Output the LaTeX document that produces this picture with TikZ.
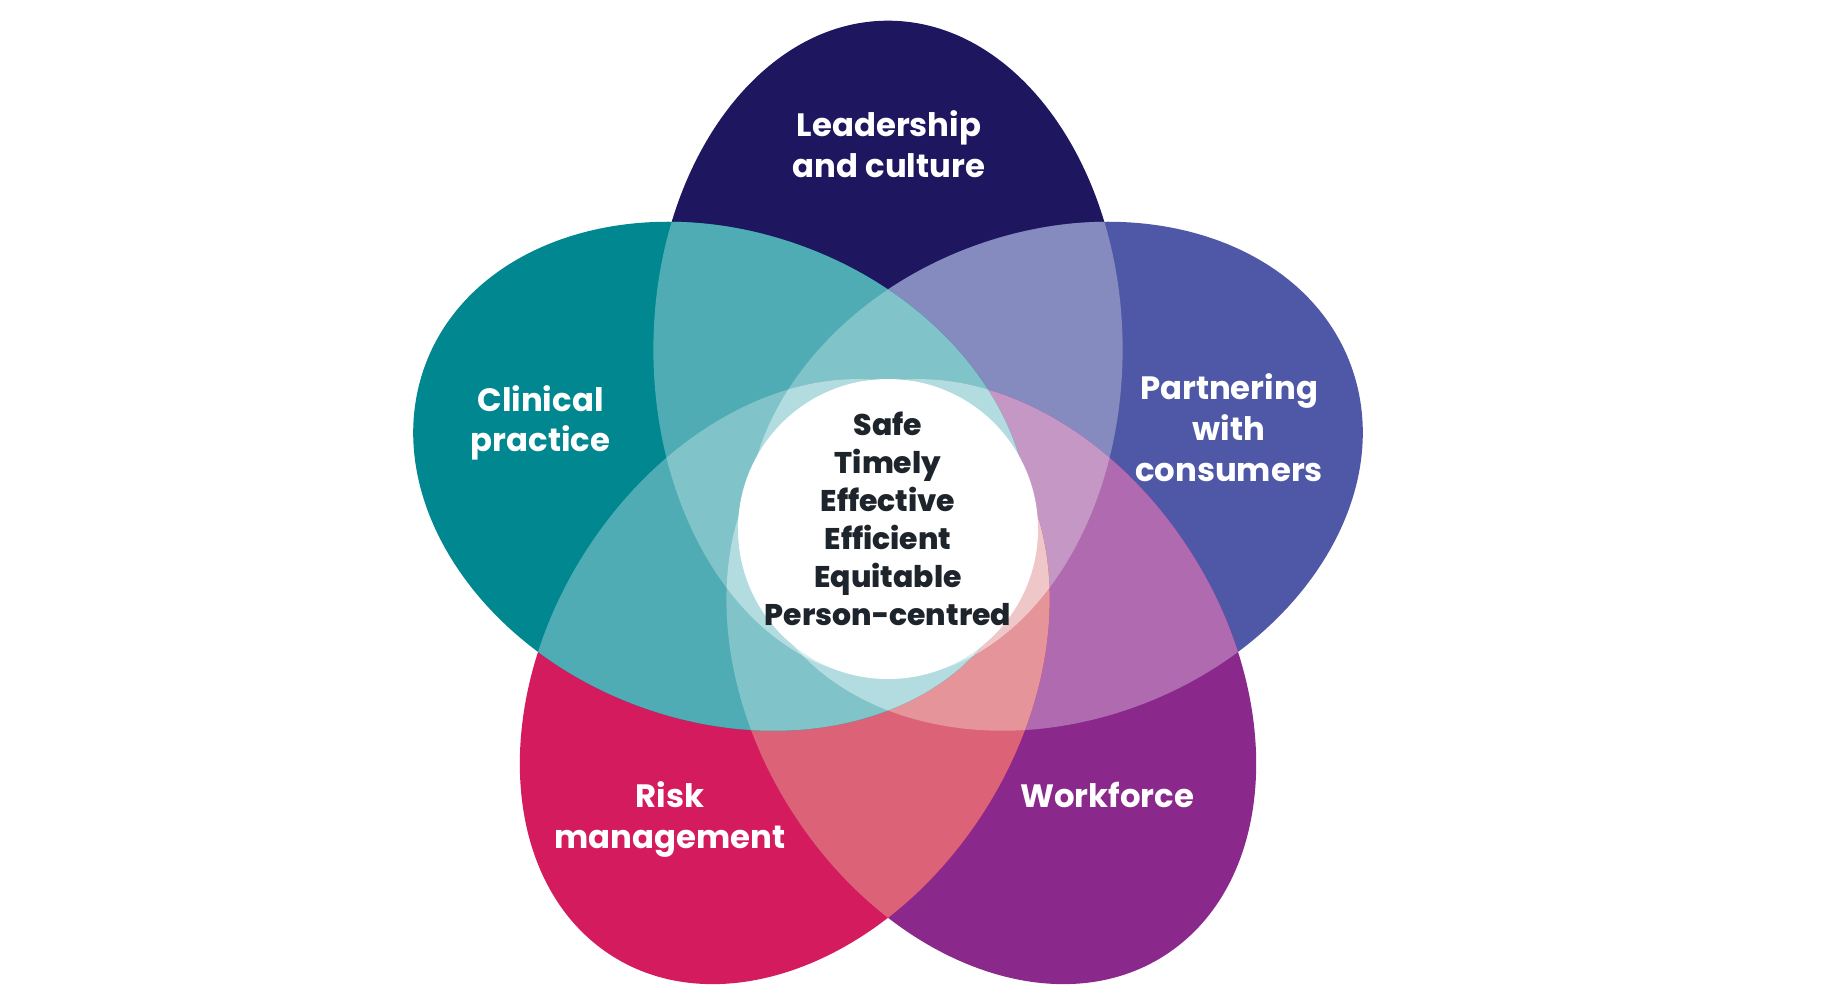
\documentclass[tikz,border=0pt]{standalone}
\usepackage{fontspec}
\setmainfont{Poppins}
\IfFontExistsTF{Poppins ExtraBold}{\newfontfamily\ctrfont{Poppins ExtraBold}}{\newfontfamily\ctrfont{Poppins}[UprightFont=* Bold]}
\definecolor{navyA}{HTML}{1E1760}
\definecolor{bluA}{HTML}{4F58A6}
\definecolor{bluB}{HTML}{858ABF}
\definecolor{wrkA}{HTML}{8B288C}
\definecolor{wrkB}{HTML}{B06BB0}
\definecolor{wrkC}{HTML}{C497C5}
\definecolor{rskA}{HTML}{D41B5E}
\definecolor{rskB}{HTML}{DC6278}
\definecolor{rskC}{HTML}{E59499}
\definecolor{rskD}{HTML}{F0C7C8}
\definecolor{teaA}{HTML}{00878F}
\definecolor{teaB}{HTML}{4FACB5}
\definecolor{teaC}{HTML}{80C3C8}
\definecolor{teaD}{HTML}{B3DCE0}
\definecolor{teaE}{HTML}{D9EEF0}
\definecolor{ctext}{HTML}{1D242B}
% petals: centre (-theta:d), major axis along theta (screen coordinates, y down)
\newcommand\pTop{(-90:177.5) circle[x radius=31.75mm, y radius=23.7mm, rotate=90]}
\newcommand\pBlu{(-18:177.5) circle[x radius=31.75mm, y radius=23.7mm, rotate=18]}
\newcommand\pWrk{(-306:177.5) circle[x radius=31.75mm, y radius=23.7mm, rotate=306]}
\newcommand\pRsk{(-234:177.5) circle[x radius=31.75mm, y radius=23.7mm, rotate=234]}
\newcommand\pTea{(-162:177.5) circle[x radius=31.75mm, y radius=23.7mm, rotate=162]}
\begin{document}
\begin{tikzpicture}[x=0.1mm, y=-0.1mm,
  lab/.style={text=white, font=\fontsize{9.2}{11.5}\selectfont\bfseries, anchor=base, inner sep=0pt},
  ctr/.style={text=ctext, font=\fontsize{8.5}{10.8}\selectfont\ctrfont, anchor=base, inner sep=0pt}]
\useasboundingbox (0,0) rectangle (1826,1000);
\fill[white] (0,0) rectangle (1826,1000);
\begin{scope}[shift={(888,533)}, yscale=1.035, xscale=0.99]
  % 1 leadership
  \fill[navyA] \pTop;
  % 2 partnering
  \fill[bluA] \pBlu;
  \begin{scope}\clip \pBlu; \fill[bluB] \pTop; \end{scope}
  % 3 workforce
  \fill[wrkA] \pWrk;
  \begin{scope}\clip \pWrk; \fill[wrkB] \pTop \pBlu; \end{scope}
  \begin{scope}\clip \pWrk; \clip \pTop; \fill[wrkC] \pBlu; \end{scope}
  % 4 risk
  \fill[rskA] \pRsk;
  \begin{scope}\clip \pRsk; \fill[rskB] \pTop \pBlu \pWrk; \end{scope}
  \begin{scope}\clip \pRsk; \clip \pTop; \fill[rskC] \pBlu \pWrk; \end{scope}
  \begin{scope}\clip \pRsk; \clip \pBlu; \fill[rskC] \pWrk; \end{scope}
  \begin{scope}\clip \pRsk; \clip \pTop; \clip \pBlu; \fill[rskD] \pWrk; \end{scope}
  % 5 clinical
  \fill[teaA] \pTea;
  \begin{scope}\clip \pTea; \fill[teaB] \pTop \pBlu \pWrk \pRsk; \end{scope}
  \begin{scope}\clip \pTea; \clip \pTop; \fill[teaC] \pBlu \pWrk \pRsk; \end{scope}
  \begin{scope}\clip \pTea; \clip \pBlu; \fill[teaC] \pWrk \pRsk; \end{scope}
  \begin{scope}\clip \pTea; \clip \pWrk; \fill[teaC] \pRsk; \end{scope}
  \begin{scope}\clip \pTea; \clip \pTop; \clip \pBlu; \fill[teaD] \pWrk \pRsk; \end{scope}
  \begin{scope}\clip \pTea; \clip \pTop; \clip \pWrk; \fill[teaD] \pRsk; \end{scope}
  \begin{scope}\clip \pTea; \clip \pBlu; \clip \pWrk; \fill[teaD] \pRsk; \end{scope}
  \begin{scope}\clip \pTea; \clip \pTop; \clip \pBlu; \clip \pWrk; \fill[teaE] \pRsk; \end{scope}
\end{scope}
\fill[white] (888,529) circle[radius=15mm];
% petal labels
\node[lab] (lead1) at (889,136.5) {Leadership};
\node[lab] (lead2) at (889,177) {and culture};
\node[lab] (clin1) at (540.5,411.7) {Clinical};
\node[lab] (clin2) at (540.5,451) {practice};
\node[lab] (part1) at (1229,399) {Partnering};
\node[lab] (part2) at (1229,440) {with};
\node[lab] (part3) at (1229,481) {consumers};
\node[lab] (risk1) at (670,807.3) {Risk};
\node[lab] (risk2) at (670,848.3) {management};
\node[lab] (work1) at (1107,807.3) {Workforce};
% centre
\node[ctr] (c1) at (888,435) {Safe};
\node[ctr] (c2) at (888,473) {Timely};
\node[ctr] (c3) at (888,511) {Effective};
\node[ctr] (c4) at (888,549) {Efficient};
\node[ctr] (c5) at (888,587) {Equitable};
\node[ctr] (c6) at (888,625) {Person-centred};
\end{tikzpicture}
\end{document}
